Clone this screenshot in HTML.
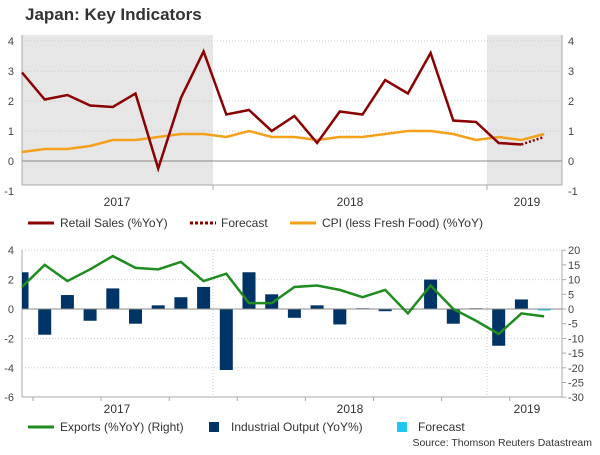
<!DOCTYPE html>
<html><head><meta charset="utf-8"><style>
body{margin:0;background:#fff;width:600px;height:450px;overflow:hidden;font-family:"Liberation Sans",sans-serif}
</style></head><body>
<svg id="c" width="600" height="450" xmlns="http://www.w3.org/2000/svg" font-family="Liberation Sans, sans-serif">
<text x="25" y="20" font-size="17" font-weight="bold" fill="#333">Japan: Key Indicators</text>
<g id="topg"></g><g id="botg"></g>
<g font-size="12" fill="#333">
<line x1="28" y1="223" x2="54" y2="223" stroke="#8b0000" stroke-width="3"/><text x="60" y="227">Retail Sales (%YoY)</text>
<line x1="190" y1="223" x2="216" y2="223" stroke="#8b0000" stroke-width="3" stroke-dasharray="3,2"/><text x="221" y="227">Forecast</text>
<line x1="290" y1="223" x2="316" y2="223" stroke="#f5a01a" stroke-width="3"/><text x="322" y="227">CPI (less Fresh Food) (%YoY)</text>
</g>
<g font-size="12" fill="#333">
<line x1="28" y1="427" x2="54" y2="427" stroke="#1e8c1e" stroke-width="3"/><text x="60" y="431">Exports (%YoY) (Right)</text>
<rect x="209" y="422" width="10" height="10" fill="#003366"/><text x="231" y="431">Industrial Output (YoY%)</text>
<rect x="397" y="422" width="10" height="10" fill="#1ec8f0"/><text x="418" y="431">Forecast</text>
</g>
<text x="592" y="446" font-size="10.5" fill="#333" text-anchor="end">Source: Thomson Reuters Datastream</text>
</svg>
<script>
const retail=[2.95,2.05,2.2,1.85,1.8,2.25,-0.25,2.1,3.65,1.55,1.7,1.0,1.5,0.6,1.65,1.55,2.7,2.25,3.6,1.35,1.3,0.6,0.55];
const retailForecast=[0.55,0.8];
const cpi=[0.3,0.4,0.4,0.5,0.7,0.7,0.8,0.9,0.9,0.8,1.0,0.8,0.8,0.7,0.8,0.8,0.9,1.0,1.0,0.9,0.7,0.8,0.7,0.9];
const io=[2.5,-1.75,0.95,-0.8,1.4,-1.0,0.25,0.8,1.5,-4.15,2.5,1.0,-0.6,0.25,-1.05,0.05,-0.15,-0.05,2.0,-1.0,0.05,-2.5,0.65];
const ioForecast=[-0.1];
const exportsYoY=[7.5,15,9.5,13.5,18,14,13.5,16,9.5,12,2,2,7.5,8,6.5,4,6.5,-1.5,8,0,-4,-8.5,-1.5,-2.5];
const topTicks=[-1,0,1,2,3,4];
const botLeftTicks=[-6,-4,-2,0,2,4];
const botRightTicks=[-30,-25,-20,-15,-10,-5,0,5,10,15,20];
const years=["2017","2018","2019"];
const NS="http://www.w3.org/2000/svg";
const X0=22,X1=562,DX=22.7;
const x=i=>X0+i*DX;
const yT=v=>161-v*30;
const yB=v=>309-v*14.7;
const yBR=v=>309-v*2.94;
function mk(p,t,a){const e=document.createElementNS(NS,t);for(const k in a)e.setAttribute(k,a[k]);p.appendChild(e);return e;}
const gTop=document.getElementById('topg'),gBot=document.getElementById('botg');
let s1=mk(gTop,'rect',{x:X0,y:35,width:213-X0,height:150,fill:'#e6e6e6'});


let s2=mk(gTop,'rect',{x:487,y:35,width:X1-487,height:150,fill:'#e6e6e6'});


topTicks.forEach(v=>{
 if(v!==0&&v!==-1)mk(gTop,'line',{x1:X0,x2:X1,y1:yT(v),y2:yT(v),stroke:'#ccc','stroke-dasharray':'1,2'});
 let t=mk(gTop,'text',{x:14,y:yT(v)+4,'font-size':11,fill:'#444','text-anchor':'end'});t.textContent=v;
 
 
 let r=mk(gTop,'text',{x:568,y:yT(v)+4,'font-size':11,fill:'#444'});r.textContent=v;
 
 
});
mk(gTop,'line',{x1:X0,x2:X1,y1:yT(0),y2:yT(0),stroke:'#888'});
mk(gTop,'line',{x1:X0,x2:X0,y1:35,y2:185,stroke:'#aaa'});
mk(gTop,'line',{x1:X1,x2:X1,y1:35,y2:185,stroke:'#aaa'});
mk(gTop,'line',{x1:X0,x2:X1,y1:185,y2:185,stroke:'#aaa'});
[213,487].forEach(xx=>mk(gTop,'line',{x1:xx,x2:xx,y1:185,y2:190,stroke:'#aaa'}));
[117,350,527].forEach((xx,i)=>{let t=mk(gTop,'text',{x:xx,y:206,'font-size':12,fill:'#333','text-anchor':'middle'});t.textContent=years[i];
 
 });
const pts=(arr,off,f)=>arr.map((v,i)=>x(i+off)+','+f(v)).join(' ');
let pc=mk(gTop,'polyline',{points:pts(cpi,0,yT),fill:'none',stroke:'#f5a01a','stroke-width':2.5});


let pr=mk(gTop,'polyline',{points:pts(retail,0,yT),fill:'none',stroke:'#8b0000','stroke-width':2.5});


let pf=mk(gTop,'polyline',{points:pts(retailForecast,retail.length-1,yT),fill:'none',stroke:'#8b0000','stroke-width':2.5,'stroke-dasharray':'2,2'});


botLeftTicks.forEach(v=>{
 if(v!==0&&v!==-6)mk(gBot,'line',{x1:X0,x2:X1,y1:yB(v),y2:yB(v),stroke:'#ccc','stroke-dasharray':'1,2'});
 let t=mk(gBot,'text',{x:14,y:yB(v)+4,'font-size':11,fill:'#444','text-anchor':'end'});t.textContent=v;
 
 
});
botRightTicks.forEach(v=>{
 mk(gBot,'line',{x1:X1,x2:X1+4,y1:yBR(v),y2:yBR(v),stroke:'#aaa'});
 let t=mk(gBot,'text',{x:568,y:yBR(v)+4,'font-size':11,fill:'#444'});t.textContent=v;
 
 
});
[213,487].forEach(xx=>mk(gBot,'line',{x1:xx,x2:xx,y1:250,y2:397,stroke:'#ccc','stroke-dasharray':'1,2'}));
mk(gBot,'line',{x1:X0,x2:X0,y1:250,y2:397,stroke:'#aaa'});
mk(gBot,'line',{x1:X1,x2:X1,y1:250,y2:397,stroke:'#aaa'});
mk(gBot,'line',{x1:X0,x2:X1,y1:397,y2:397,stroke:'#aaa'});
for(let i=0;i<24;i+=3)mk(gBot,'line',{x1:x(i)+11,x2:x(i)+11,y1:397,y2:401,stroke:'#aaa'});
[117,350,527].forEach((xx,i)=>{let t=mk(gBot,'text',{x:xx,y:413,'font-size':12,fill:'#333','text-anchor':'middle'});t.textContent=years[i];
 
 });
const BW=13;
io.forEach((v,i)=>{let x0=Math.max(X0,x(i)-BW/2),x1=x(i)+BW/2;
 let b=mk(gBot,'rect',{x:x0,y:Math.min(yB(v),yB(0)),width:x1-x0,height:Math.abs(yB(v)-yB(0)),fill:'#003366'});
 
 });
ioForecast.forEach((v,j)=>{let i=io.length+j;
 let b=mk(gBot,'rect',{x:x(i)-BW/2,y:Math.min(yB(v),yB(0)),width:BW,height:Math.max(1.5,Math.abs(yB(v)-yB(0))),fill:'#1ec8f0'});
 
 });
mk(gBot,'line',{x1:X0,x2:X1,y1:yB(0),y2:yB(0),stroke:'#888'});
let pe=mk(gBot,'polyline',{points:pts(exportsYoY,0,yBR),fill:'none',stroke:'#1e8c1e','stroke-width':2.5});


</script>
</body></html>
